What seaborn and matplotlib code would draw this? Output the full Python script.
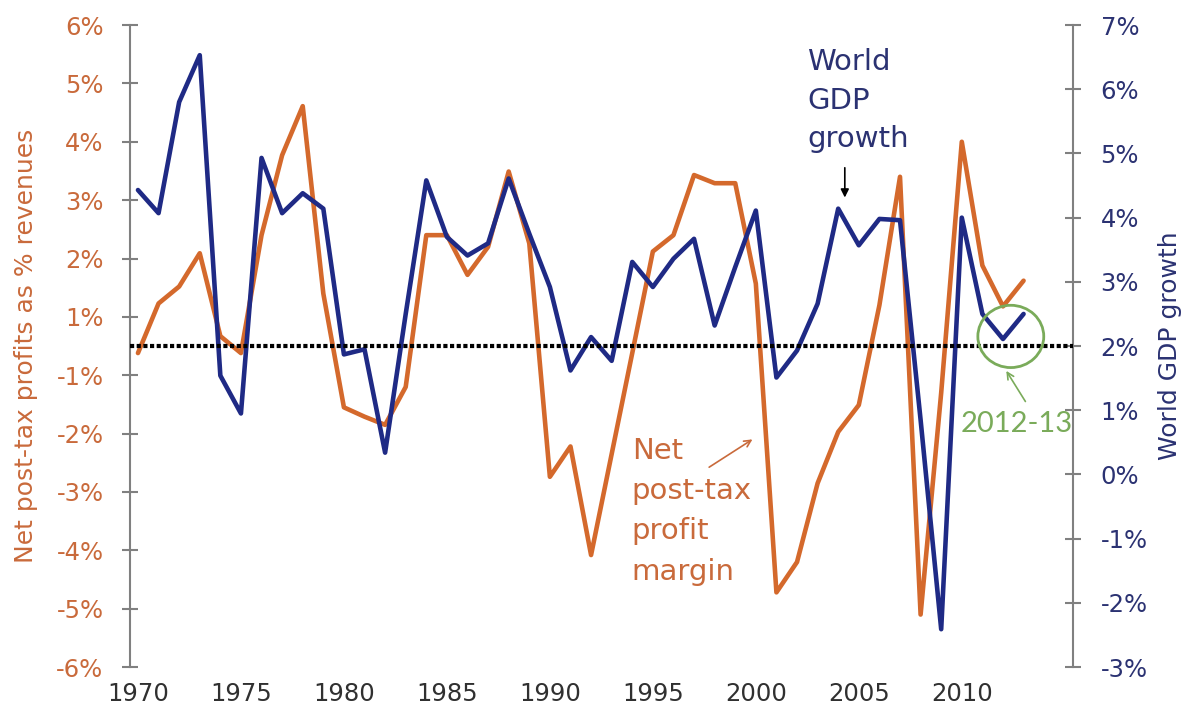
import pandas as pd
import matplotlib.pyplot as plt
import seaborn as sns
from matplotlib.patches import Ellipse

# Years on the x axis
years = list(range(1970, 2014))

# Net post-tax profit margin, read against the left axis gridline positions
# (that axis has no 0% tick: the position under "1%" is labelled "-1%")
margin = [0.38, 1.23, 1.52, 2.09, 0.67, 0.38, 2.40, 3.77, 4.61, 1.40,
          -0.55, -0.71, -0.85, -0.20, 2.40, 2.40, 1.72, 2.20, 3.49, 2.26,
          -1.74, -1.22, -3.08, -1.35, 0.38, 2.12, 2.40, 3.43, 3.29, 3.29,
          1.57, -3.72, -3.20, -1.85, -0.97, -0.51, 1.20, 3.40, -4.10, -0.30,
          4.00, 1.88, 1.18, 1.62]

# World GDP growth (%), right axis
gdp_growth = [4.43, 4.07, 5.80, 6.53, 1.54, 0.95, 4.93, 4.07, 4.38, 4.14,
              1.87, 1.95, 0.34, 2.50, 4.58, 3.70, 3.41, 3.60, 4.61, 3.75,
              2.92, 1.62, 2.14, 1.77, 3.31, 2.92, 3.36, 3.67, 2.32, 3.23,
              4.11, 1.51, 1.93, 2.66, 4.14, 3.57, 3.98, 3.96, 0.85, -2.41,
              4.00, 2.50, 2.11, 2.50]

# Tick values and labels
left_ticks = list(range(-5, 7))
left_labels = ['-6%', '-5%', '-4%', '-3%', '-2%', '-1%', '1%', '2%', '3%', '4%', '5%', '6%']
right_ticks = list(range(-3, 8))
right_labels = ['{}%'.format(v) for v in right_ticks]
x_ticks = list(range(1970, 2015, 5))

# Reference level for world GDP growth (dotted line)
gdp_ref = 2.0

# Colours
orange = '#d4692c'
orange_text = '#c96a3b'
navy = '#1f2a85'
navy_text = '#2b3272'
green = '#7aab5a'
grey = '#808080'

df = pd.DataFrame({'year': years, 'margin': margin, 'gdp': gdp_growth})

sns.set_style('white')
plt.rcParams['font.family'] = ['DejaVu Sans']

fig = plt.figure(figsize=(11.92, 7.15), dpi=100, facecolor='w')
ax = fig.add_axes([0.109, 0.067, 0.791, 0.898])
ax2 = ax.twinx()

sns.lineplot(ax=ax, data=df, x='year', y='margin', color=orange, lw=3.3)
sns.lineplot(ax=ax2, data=df, x='year', y='gdp', color=navy, lw=3.3)
ax2.axhline(gdp_ref, color='black', lw=3, ls=(0, (1, 0.6)), zorder=5)

# Axes limits and ticks
ax.set_xlim(1969.61, 2015.39)
ax.set_xticks(x_ticks)
ax.set_ylim(-5, 6)
ax.set_yticks(left_ticks)
ax.set_yticklabels(left_labels)
ax2.set_ylim(-3, 7)
ax2.set_yticks(right_ticks)
ax2.set_yticklabels(right_labels)

for s in ['top', 'bottom', 'right']:
    ax.spines[s].set_visible(False)
for s in ['top', 'bottom', 'left']:
    ax2.spines[s].set_visible(False)
ax.spines['left'].set_color(grey)
ax.spines['left'].set_linewidth(1.5)
ax2.spines['right'].set_color(grey)
ax2.spines['right'].set_linewidth(1.5)

ax.tick_params(axis='y', direction='inout', length=12, width=1.5, color=grey,
               labelcolor=orange_text, labelsize=17.5, pad=13)
ax2.tick_params(axis='y', direction='inout', length=12, width=1.5, color=grey,
                labelcolor=navy_text, labelsize=17.5, pad=14)
ax.tick_params(axis='x', length=0, labelsize=17.5, labelcolor='#303030', pad=11)

ax.set_xlabel('')
ax2.set_xlabel('')
ax.set_ylabel('Net post-tax profits as % revenues', color=orange_text, fontsize=18)
ax.yaxis.set_label_coords(-0.098, 0.5)
ax2.set_ylabel('World GDP growth', color=navy_text, fontsize=18)
ax2.yaxis.set_label_coords(1.09, 0.5)

# Annotations
ax2.text(2002.5, 6.64, 'World\nGDP\ngrowth', color=navy_text, fontsize=21,
         ha='left', va='top', linespacing=1.48, zorder=6)
ax2.annotate('', xy=(2004.32, 4.27), xytext=(2004.32, 4.82),
             arrowprops=dict(arrowstyle='-|>', color='black', lw=1.2, mutation_scale=12), zorder=6)

ax2.text(1993.98, 0.58, 'Net\npost-tax\nprofit\nmargin', color=orange_text, fontsize=21,
         ha='left', va='top', linespacing=1.55, zorder=6)
ax2.annotate('', xy=(1999.95, 0.57), xytext=(1997.62, 0.09),
             arrowprops=dict(arrowstyle='->', color=orange_text, lw=1.2, mutation_scale=12), zorder=6)

ax2.add_patch(Ellipse((2012.38, 2.15), 3.2, 0.97, fill=False, edgecolor=green, lw=2, zorder=6))
ax2.annotate('', xy=(2012.09, 1.65), xytext=(2013.16, 1.10),
             arrowprops=dict(arrowstyle='->', color=green, lw=1.2, mutation_scale=12), zorder=6)
ax2.text(2012.67, 0.78, '2012-13', color=green, fontsize=21, family='Lato',
         ha='center', va='center', zorder=6)

fig.savefig('out.png', dpi=100)
